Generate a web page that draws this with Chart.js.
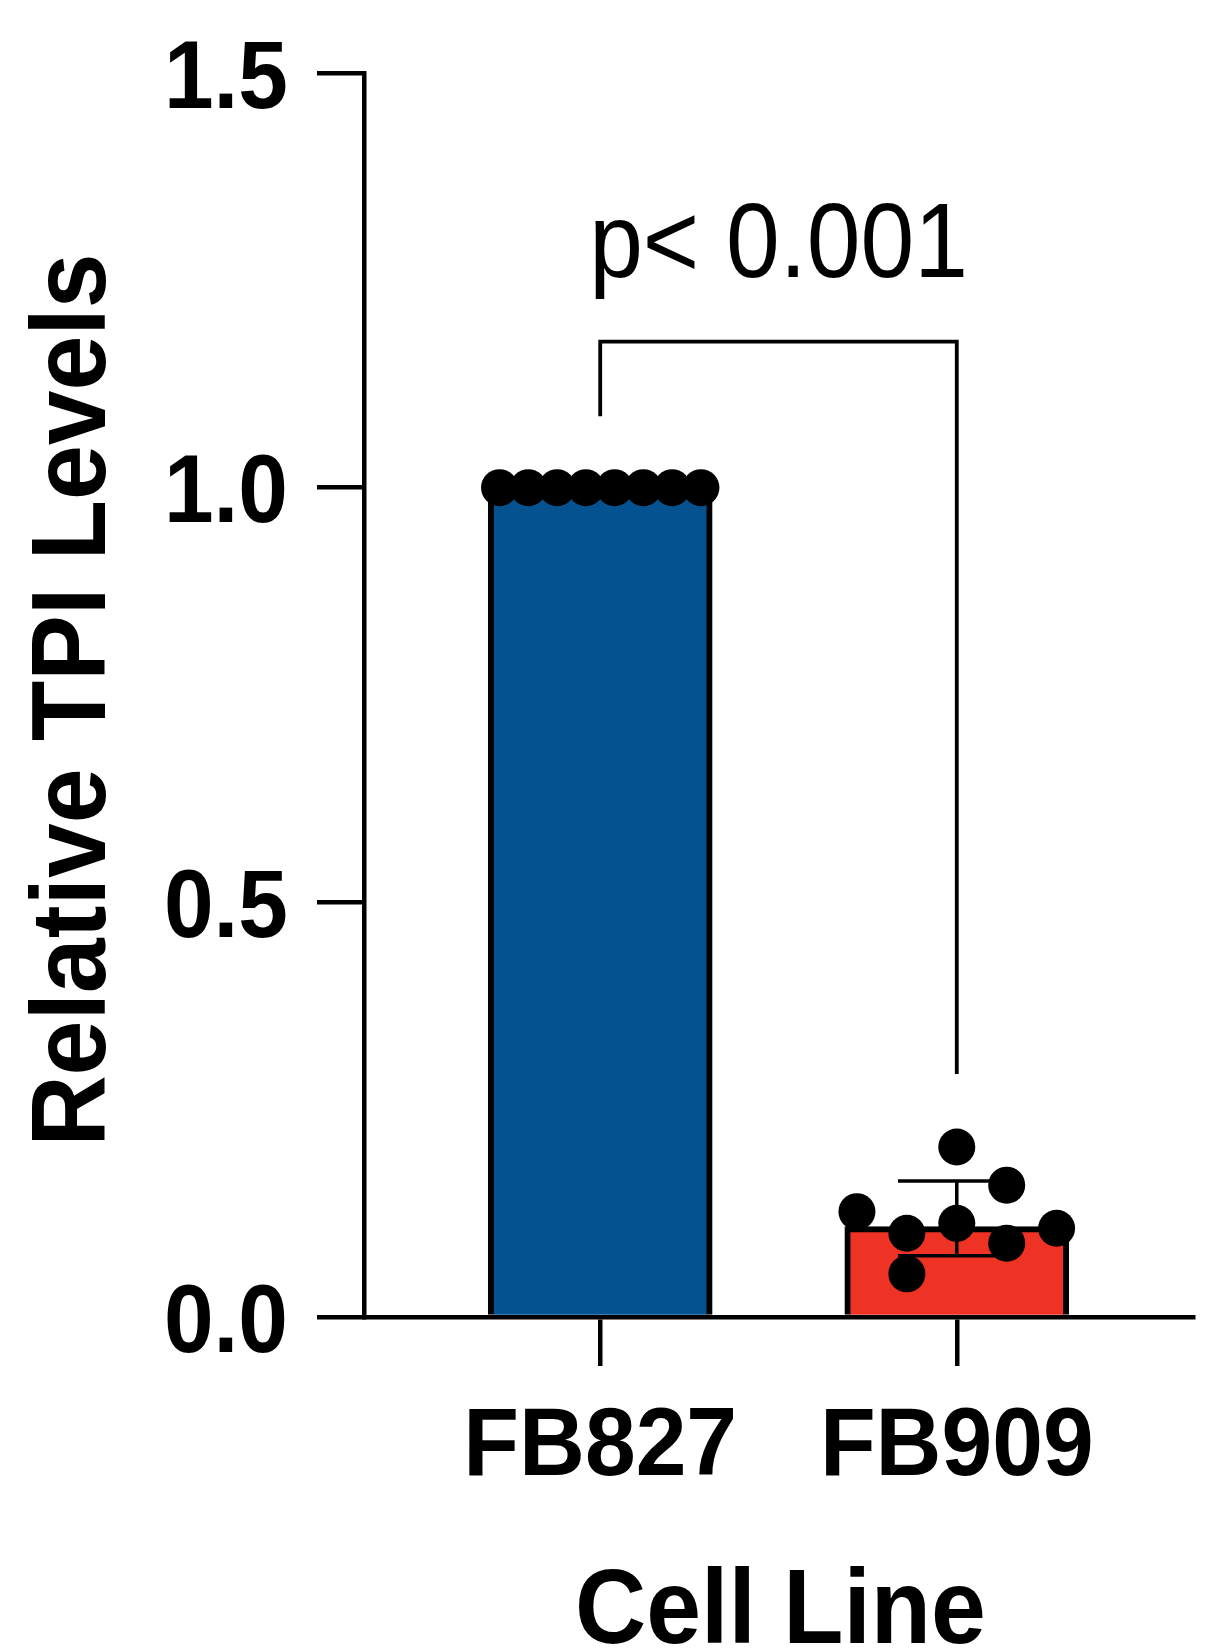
<!DOCTYPE html>
<html>
<head>
<meta charset="utf-8">
<script src="https://cdn.jsdelivr.net/npm/chart.js@4.4.1/dist/chart.umd.min.js"></script>
<style>
  html, body { margin: 0; padding: 0; background: #fff; }
  canvas { display: block; }
</style>
</head>
<body>
<canvas id="c" width="1226" height="1651"></canvas>
<script>
// ---- data ----
const categories = ['FB827', 'FB909'];
const barMeans = [1.0, 0.109];
const errorHigh = [null, 0.164];
const errorLow = [null, 0.074];
const fb827Points = [1.0, 1.0, 1.0, 1.0, 1.0, 1.0, 1.0, 1.0];
const fb909Points = [0.127, 0.101, 0.052, 0.205, 0.113, 0.159, 0.089, 0.107];
const fb909Slots = [-2, -1, -1, 0, 0, 1, 1, 2];
const yTicks = [0, 0.5, 1.0, 1.5];
const bracketHeights = [1.086, 1.176, 0.293]; // left foot, top, right foot
const pText = 'p< 0.001';
const pTextLevel = 1.2545;
const yTitle = 'Relative TPI Levels';
const xTitle = 'Cell Line';

// ---- styles ----
const BLUE = '#04528F';
const RED = '#EE3224';
const FONT = '"Liberation Sans", Arial, Helvetica, sans-serif';
const SQUEEZE = 0.93;
const slot827 = 0.0807, slot909 = 0.14, capHalf = 0.165;
const AXIS_W = 4.5;

const catX = categories.map((_, i) => i + 1);

const barData = catX.map((x, i) => ({ x: x, y: barMeans[i] }));
const dots = [];
fb827Points.forEach((v, i) => dots.push({ x: catX[0] + (i - (fb827Points.length - 1) / 2) * slot827, y: v }));
fb909Points.forEach((v, i) => dots.push({ x: catX[1] + fb909Slots[i] * slot909, y: v }));

const errData = [];
catX.forEach((x, i) => {
  if (errorHigh[i] == null) return;
  errData.push({ x: x - capHalf, y: errorHigh[i] }, { x: x + capHalf, y: errorHigh[i] }, { x: x, y: null });
  errData.push({ x: x, y: errorHigh[i] }, { x: x, y: errorLow[i] }, { x: x, y: null });
  errData.push({ x: x - capHalf, y: errorLow[i] }, { x: x + capHalf, y: errorLow[i] }, { x: x, y: null });
});

const bracketData = [
  { x: catX[0], y: bracketHeights[0] },
  { x: catX[0], y: bracketHeights[1] },
  { x: catX[1], y: bracketHeights[1] },
  { x: catX[1], y: bracketHeights[2] }
];

function drawText(ctx, text, x, y, font, align, sx, rot) {
  ctx.save();
  ctx.translate(x, y);
  if (rot) ctx.rotate(rot);
  ctx.scale(sx, 1);
  ctx.font = font;
  ctx.fillStyle = '#000';
  ctx.textAlign = align;
  ctx.textBaseline = 'alphabetic';
  ctx.fillText(text, 0, 0);
  ctx.restore();
}

const bgPlugin = {
  id: 'bg',
  beforeDraw(chart) {
    const ctx = chart.ctx;
    ctx.save();
    ctx.fillStyle = '#fff';
    ctx.fillRect(0, 0, chart.width, chart.height);
    ctx.restore();
  }
};

const textPlugin = {
  id: 'texts',
  afterDraw(chart) {
    const ctx = chart.ctx;
    const xs = chart.scales.x, ys = chart.scales.y;
    const area = chart.chartArea;
    // y tick labels
    yTicks.forEach(v => {
      const py = ys.getPixelForValue(v);
      drawText(ctx, v.toFixed(1), area.left - 76, py + 34.5, 'bold 96px ' + FONT, 'right', SQUEEZE);
    });
    // x tick labels
    categories.forEach((c, i) => {
      const px = xs.getPixelForValue(catX[i]);
      drawText(ctx, c, px, 1475, 'bold 96px ' + FONT, 'center', 0.95);
    });
    // axis titles
    const midX = xs.getPixelForValue((catX[0] + catX[1]) / 2);
    drawText(ctx, xTitle, midX + 2, 1643, 'bold 106px ' + FONT, 'center', SQUEEZE);
    drawText(ctx, yTitle, 105, 700, 'bold 106px ' + FONT, 'center', SQUEEZE, -Math.PI / 2);
    // p value
    drawText(ctx, pText, midX, ys.getPixelForValue(pTextLevel), '105px ' + FONT, 'center', 0.92);
  }
};

new Chart(document.getElementById('c'), {
  type: 'bar',
  data: {
    datasets: [
      {
        type: 'scatter',
        data: dots,
        backgroundColor: '#000',
        borderColor: '#000',
        borderWidth: 0,
        pointRadius: 18.5,
        pointHoverRadius: 18.5,
        clip: false,
        order: 0
      },
      {
        type: 'line',
        data: errData,
        borderColor: '#000',
        borderWidth: 3.5,
        pointRadius: 0,
        fill: false,
        spanGaps: false,
        tension: 0,
        clip: false,
        order: 1
      },
      {
        type: 'line',
        data: bracketData,
        borderColor: '#000',
        borderWidth: 3.8,
        pointRadius: 0,
        fill: false,
        tension: 0,
        clip: false,
        order: 1
      },
      {
        type: 'bar',
        data: barData,
        backgroundColor: [BLUE, RED],
        borderColor: '#000',
        borderWidth: 6,
        borderSkipped: 'start',
        barThickness: 224,
        order: 2
      }
    ]
  },
  options: {
    responsive: false,
    animation: false,
    devicePixelRatio: 1,
    layout: { padding: { top: 73, right: 33, bottom: 0, left: 0 } },
    plugins: { legend: { display: false }, tooltip: { enabled: false } },
    scales: {
      x: {
        type: 'linear',
        min: 0.3375,
        max: 2.6625,
        offset: false,
        z: 1,
        afterBuildTicks(scale) { scale.ticks = catX.map(v => ({ value: v })); },
        afterFit(scale) { scale.height = 334; },
        ticks: { display: false },
        grid: {
          offset: false,
          drawOnChartArea: false,
          drawTicks: true,
          tickLength: 49,
          color: '#000',
          lineWidth: AXIS_W
        },
        border: { display: true, color: '#000', width: AXIS_W }
      },
      y: {
        type: 'linear',
        min: 0,
        max: 1.5,
        z: 1,
        afterBuildTicks(scale) { scale.ticks = yTicks.map(v => ({ value: v })); },
        afterFit(scale) { scale.width = 364; },
        ticks: { display: false },
        grid: {
          drawOnChartArea: false,
          drawTicks: true,
          tickLength: 47,
          color: '#000',
          lineWidth: AXIS_W
        },
        border: { display: true, color: '#000', width: AXIS_W }
      }
    }
  },
  plugins: [bgPlugin, textPlugin]
});
</script>
</body>
</html>
